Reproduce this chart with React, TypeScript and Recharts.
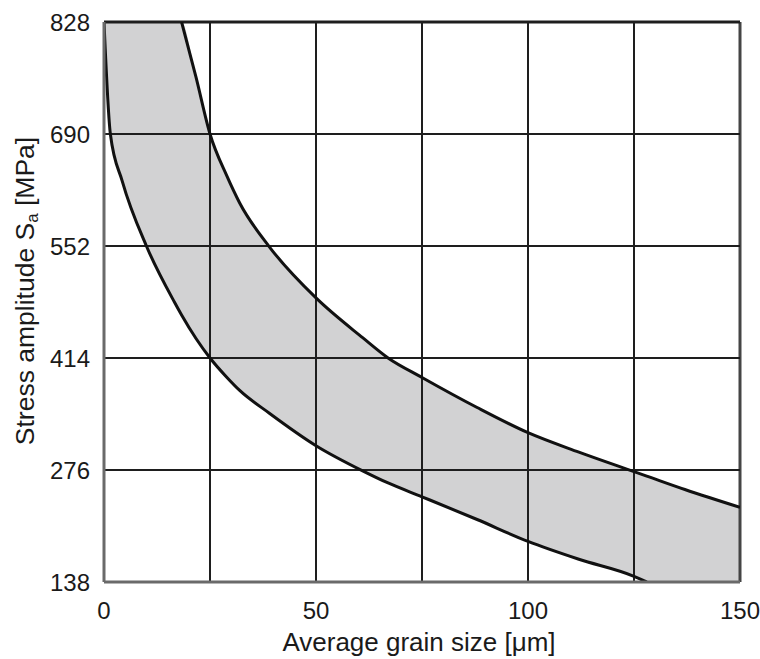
import { ComposedChart, Area, Line, XAxis, YAxis, ReferenceLine, Label } from "recharts";

// grain size [µm] and the two bounding curves of the band [MPa]
const grain = [0, 1.5, 4.3, 10, 16.6, 18.3, 21.7, 25, 29, 32, 39, 50, 61, 67, 75, 88, 100, 112, 125, 128, 137, 150];
const upperStress = [828, 828, 828, 828, 828, 828, 760, 690, 638, 605, 551, 488, 439, 414, 390, 353, 322, 298, 274, 268.5, 252, 230];
const lowerStress = [828, 690, 632, 552, 483, 467, 438, 414, 390, 374, 346, 306, 275, 260, 243, 215, 188, 166, 145, 138, 138, 138];

const xTicks = [0, 25, 50, 75, 100, 125, 150];
const xLabelled = [0, 50, 100, 150];
const yTicks = [138, 276, 414, 552, 690, 828];

const FONT = '"Liberation Sans", Arial, sans-serif';
const INK = "#1a1a1a";
const GRID = "#1e1e1e";

// lines stop where the curve leaves the frame (top / bottom edge)
const data = grain.map((g, i) => ({
  grain: g,
  band: [lowerStress[i], upperStress[i]],
  upper: upperStress[i] < 828 || upperStress[i + 1] < 828 ? upperStress[i] : null,
  lower: lowerStress[i] > 138 || lowerStress[i - 1] > 138 ? lowerStress[i] : null,
}));

function YTitle(props: any) {
  const vb = props.viewBox || {};
  const cx = 25;
  const cy = vb.y + vb.height / 2 - 11;
  return (
    <text
      x={cx}
      y={cy}
      transform={`rotate(-90, ${cx}, ${cy})`}
      textAnchor="middle"
      dominantBaseline="central"
      fontSize={26.5}
      fontFamily={FONT}
      fill={INK}
    >
      Stress amplitude S
      <tspan dy={7} fontSize={17}>a</tspan>
      <tspan dy={-7}> [MPa]</tspan>
    </text>
  );
}

function XTitle(props: any) {
  const vb = props.viewBox || {};
  return (
    <text
      x={vb.x + vb.width / 2 - 3}
      y={651}
      textAnchor="middle"
      fontSize={26}
      fontFamily={FONT}
      fill={INK}
    >
      Average grain size [μm]
    </text>
  );
}

export default function App() {
  return (
    <div style={{ position: "absolute", left: 0, top: 0, width: 760, height: 659, background: "#fff" }}>
      <ComposedChart width={760} height={659} data={data} margin={{ top: 22, right: 20, bottom: 0, left: 0 }}>
        <XAxis
          dataKey="grain"
          type="number"
          domain={[0, 150]}
          ticks={xTicks}
          tickFormatter={(v) => (xLabelled.includes(v) ? String(v) : "")}
          height={77}
          tickLine={false}
          tickSize={0}
          tickMargin={20}
          axisLine={{ stroke: "#6a6a6a", strokeWidth: 3 }}
          tick={{ fontSize: 24, fill: INK, fontFamily: FONT }}
          allowDataOverflow
        >
          <Label content={<XTitle />} />
        </XAxis>
        <YAxis
          type="number"
          domain={[138, 828]}
          ticks={yTicks}
          width={104}
          tickLine={false}
          tickSize={0}
          tickMargin={14}
          axisLine={{ stroke: "#6a6a6a", strokeWidth: 3 }}
          tick={{ fontSize: 24, fill: INK, fontFamily: FONT }}
          allowDataOverflow
        >
          <Label content={<YTitle />} />
        </YAxis>
        <Area
          dataKey="band"
          type="monotone"
          stroke="none"
          fill="#d2d2d3"
          fillOpacity={1}
          isAnimationActive={false}
        />
        {xTicks.slice(1).map((t) => (
          <ReferenceLine key={`x${t}`} x={t} stroke={t === 150 ? "#444" : GRID} strokeWidth={t === 150 ? 3 : 2} />
        ))}
        {yTicks.slice(1).map((t) => (
          <ReferenceLine key={`y${t}`} y={t} stroke={GRID} strokeWidth={t === 828 ? 3 : 2} />
        ))}
        <Line dataKey="upper" type="monotone" stroke="#111" strokeWidth={3} dot={false} isAnimationActive={false} />
        <Line dataKey="lower" type="monotone" stroke="#111" strokeWidth={3} dot={false} isAnimationActive={false} />
      </ComposedChart>
    </div>
  );
}
